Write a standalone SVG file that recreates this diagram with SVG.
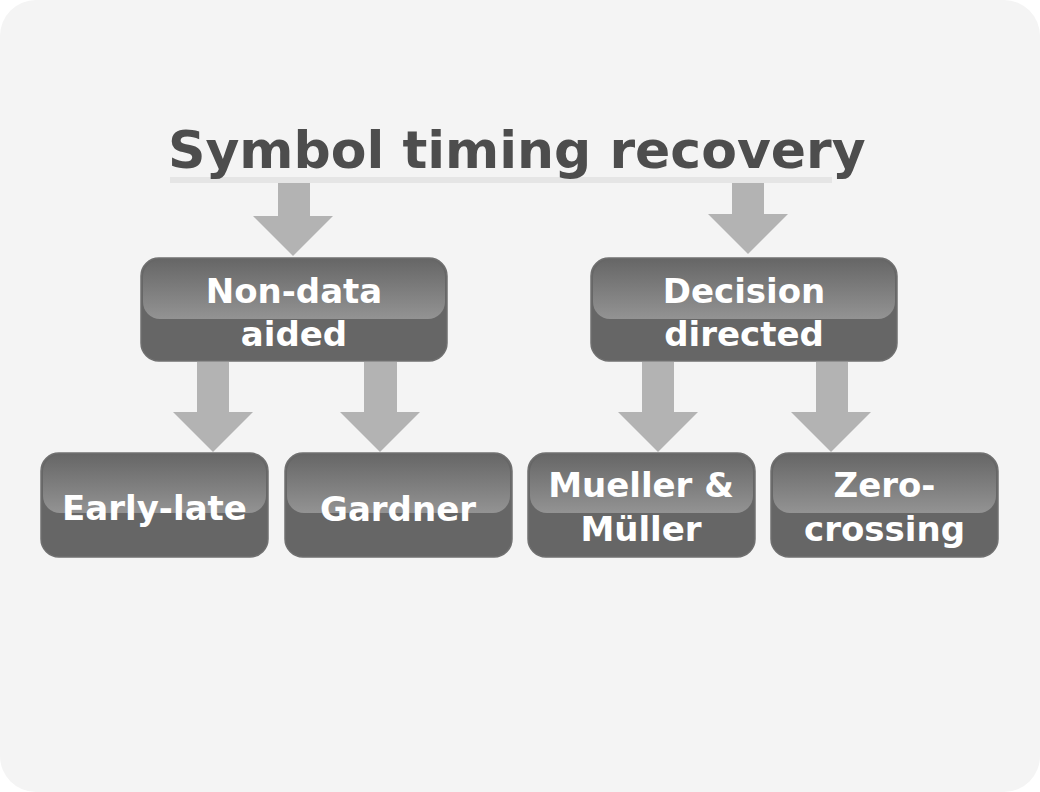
<svg xmlns="http://www.w3.org/2000/svg" width="1040" height="792" viewBox="0 0 1040 792">
<defs>
<linearGradient id="gloss" x1="0" y1="0" x2="0" y2="1">
<stop offset="0" stop-color="#676767"/>
<stop offset="1" stop-color="#939393"/>
</linearGradient>
<style>
.box{fill:#666666;stroke:#707070;stroke-width:1.5}
.hl{fill:url(#gloss)}
.lbl{font-family:"DejaVu Sans",sans-serif;font-weight:bold;font-size:34px;fill:#ffffff;text-anchor:middle}
.arr{fill:#b3b3b3}
.title{font-family:"DejaVu Sans",sans-serif;font-weight:bold;font-size:52px;fill:#4d4d4d}
</style>
</defs>
<rect x="0" y="0" width="1040" height="792" fill="#ffffff"/>
<rect x="0" y="0" width="1040" height="792" rx="36" fill="#f4f4f4"/>
<g id="title">
<rect x="170" y="177" width="662" height="6" fill="#e5e5e5"/>
<text class="title" x="168" y="168">Symbol timing recovery</text>
</g>
<g id="connectors">
<path class="arr" d="M278,183 H310 V216 H333 L293,256 L253,216 H278 Z"/>
<path class="arr" d="M732,183 H764 V214 H788 L748,254 L708,214 H732 Z"/>
<path class="arr" d="M197,362 H229 V412 H253 L213,452 L173,412 H197 Z"/>
<path class="arr" d="M364,362 H397 V412 H420 L380,452 L340,412 H364 Z"/>
<path class="arr" d="M642,362 H674 V412 H698 L658,452 L618,412 H642 Z"/>
<path class="arr" d="M816,362 H848 V412 H871 L831,452 L791,412 H816 Z"/>
</g>
<g id="nondata">
<rect class="box" x="141" y="258" width="306" height="103" rx="18"/>
<rect class="hl" x="143" y="260" width="302" height="59" rx="17"/>
<text class="lbl" x="294" y="303">Non-data</text>
<text class="lbl" x="294" y="346">aided</text>
</g>
<g id="decision">
<rect class="box" x="591" y="258" width="306" height="103" rx="18"/>
<rect class="hl" x="593" y="260" width="302" height="59" rx="17"/>
<text class="lbl" x="744" y="303">Decision</text>
<text class="lbl" x="744" y="346">directed</text>
</g>
<g id="earlylate">
<rect class="box" x="41" y="453" width="227" height="104" rx="18"/>
<rect class="hl" x="43" y="455" width="223" height="58" rx="17"/>
<text class="lbl" x="154.5" y="520">Early-late</text>
</g>
<g id="gardner">
<rect class="box" x="285" y="453" width="227" height="104" rx="18"/>
<rect class="hl" x="287" y="455" width="223" height="58" rx="17"/>
<text class="lbl" x="398" y="521">Gardner</text>
</g>
<g id="mueller">
<rect class="box" x="528" y="453" width="227" height="104" rx="18"/>
<rect class="hl" x="530" y="455" width="223" height="58" rx="17"/>
<text class="lbl" x="641" y="497">Mueller &amp;</text>
<text class="lbl" x="641" y="541">Müller</text>
</g>
<g id="zerocrossing">
<rect class="box" x="771" y="453" width="227" height="104" rx="18"/>
<rect class="hl" x="773" y="455" width="223" height="58" rx="17"/>
<text class="lbl" x="884.5" y="497">Zero-</text>
<text class="lbl" x="884.5" y="541">crossing</text>
</g>
</svg>
